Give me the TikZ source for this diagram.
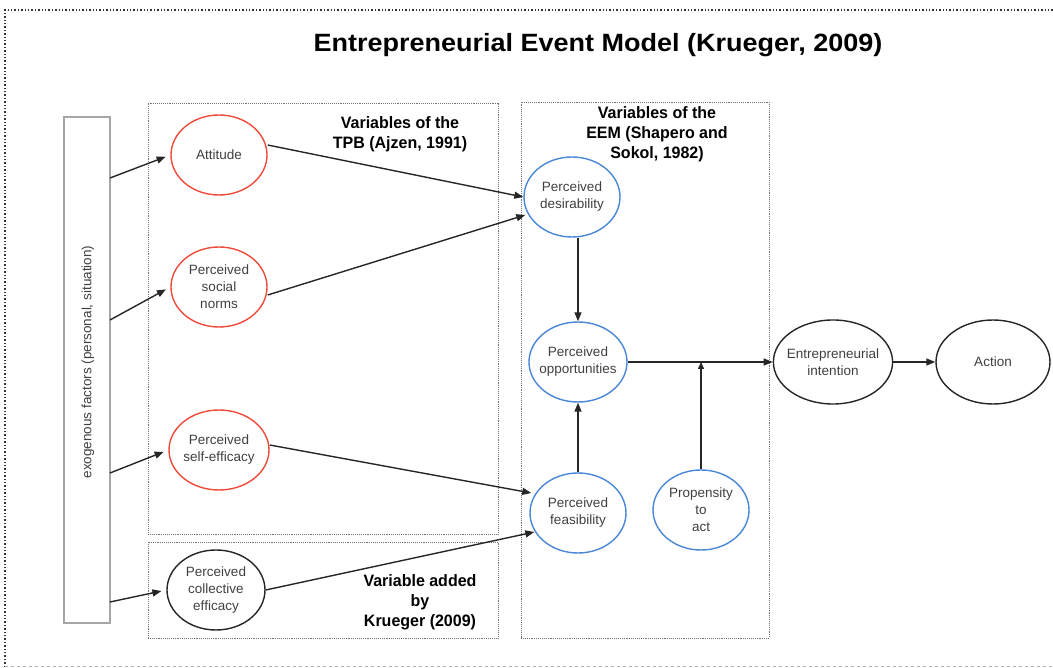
\documentclass[tikz,border=0pt]{standalone}
\usepackage{fontspec}
\setmainfont{Liberation Sans}
\usetikzlibrary{shapes.geometric,arrows.meta,calc}
\definecolor{redc}{HTML}{EE4B3B}
\definecolor{bluec}{HTML}{4A87D6}
\definecolor{txtg}{HTML}{404040}
\tikzset{
  ell/.style={ellipse, draw, line width=1.4pt, inner sep=-4pt, align=center, text=txtg, font=\fontsize{13.5}{17}\selectfont, minimum width=96pt, minimum height=80pt},
  redell/.style={ell, draw=redc},
  blueell/.style={ell, draw=bluec},
  blackell/.style={ell, draw=black!85},
  grp/.style={draw=black!55, densely dotted, line width=0.9pt},
  lbl/.style={align=center, font=\fontsize{16.5}{20}\bfseries\selectfont, xscale=0.97},
  arr/.style={-{Triangle[length=9pt,width=7pt]}, line width=1.4pt, black!85},
}
\begin{document}
\begin{tikzpicture}[x=1pt,y=-1pt]
\useasboundingbox (0,0) rectangle (1053,668);
% outer frame
\draw[black!80, dotted, line width=1.4pt] (5,667) -- (5,10) -- (1053,10);
\draw[black!30, dashed, line width=0.6pt] (5,666) -- (1053,666);
% title
\node[font=\fontsize{25}{30}\bfseries\selectfont, xscale=1.08] (title) at (598,45) {Entrepreneurial Event Model (Krueger, 2009)};
% group boxes
\node[grp, minimum width=350pt, minimum height=431pt, inner sep=0pt] (tpb) at (323,318.5) {};
\node[grp, minimum width=350pt, minimum height=96pt, inner sep=0pt] (kr) at (323,590) {};
\node[grp, minimum width=248pt, minimum height=536pt, inner sep=0pt] (eem) at (645,370) {};
% exogenous box
\node[draw=black!35, line width=1.5pt, minimum width=46pt, minimum height=506pt, inner sep=0pt] (exo) at (87,370) {};
\node[rotate=90, text=txtg, font=\fontsize{13.5}{16}\selectfont] (exot) at (88,362) {exogenous factors (personal, situation)};
% labels
\node[lbl] (ltpb) at (400,134) {Variables of the\\TPB (Ajzen, 1991)};
\node[lbl] (leem) at (657,134) {Variables of the\\EEM (Shapero and\\Sokol, 1982)};
\node[lbl] (lkr) at (420,602) {Variable added\\by\\Krueger (2009)};
% ellipses
\node[redell] (att) at (219,155) {Attitude};
\node[redell] (soc) at (219,287) {Perceived\\social\\norms};
\node[redell, minimum width=100pt] (self) at (219,450) {Perceived\\self-efficacy};
\node[blackell, minimum width=98pt] (coll) at (216,590) {Perceived\\collective\\efficacy};
\node[blueell] (des) at (572,197) {Perceived\\desirability};
\node[blueell, minimum width=98pt] (opp) at (578,362) {Perceived\\opportunities};
\node[blueell] (fea) at (578,513) {Perceived\\feasibility};
\node[blueell] (prop) at (701,510) {Propensity\\to\\act};
\node[blackell, minimum width=116pt, minimum height=84pt] (int) at (833,362) {Entrepreneurial\\intention};
\node[blackell, minimum width=114pt, minimum height=84pt] (act) at (993,362) {Action};
% arrows from exogenous factors
\coordinate (x1) at (110,178);
\coordinate (x2) at (110,320);
\coordinate (x3) at (110,473);
\coordinate (x4) at (110,602);
\draw[arr, shorten >=5pt] (x1) -- (att.west);
\draw[arr, shorten >=5pt] (x2) -- (soc.west);
\draw[arr, shorten >=5pt] (x3) -- (self.west);
\draw[arr, shorten >=5pt] (x4) -- (coll.west);
% to desirability / feasibility
\draw[arr] (att.east) ++(0,-10) coordinate (a1) (a1) -- (des.west);
\draw[arr] (soc.east) ++(0,8) coordinate (s1) (s1) -- ($(des.west)+(2,18)$);
\draw[arr] (self.east) ++(0,-5) coordinate (se1) (se1) -- ($(fea.west)+(2,-20)$);
\draw[arr] (coll.east) coordinate (c1) (c1) -- ($(fea.west)+(5,19)$);
% vertical
\coordinate (dsb) at (opp.north |- des.south);
\draw[arr] (dsb) -- (opp.north);
\draw[arr] (fea.north) -- (opp.south);
\draw[arr] (opp.east) -- (int.west);
\coordinate (j) at (prop.north |- opp.east);
\draw[arr, -{Triangle[length=7pt,width=6pt]}] (prop.north) -- (j);
\draw[arr] (int.east) -- (act.west);
\end{tikzpicture}
\end{document}
